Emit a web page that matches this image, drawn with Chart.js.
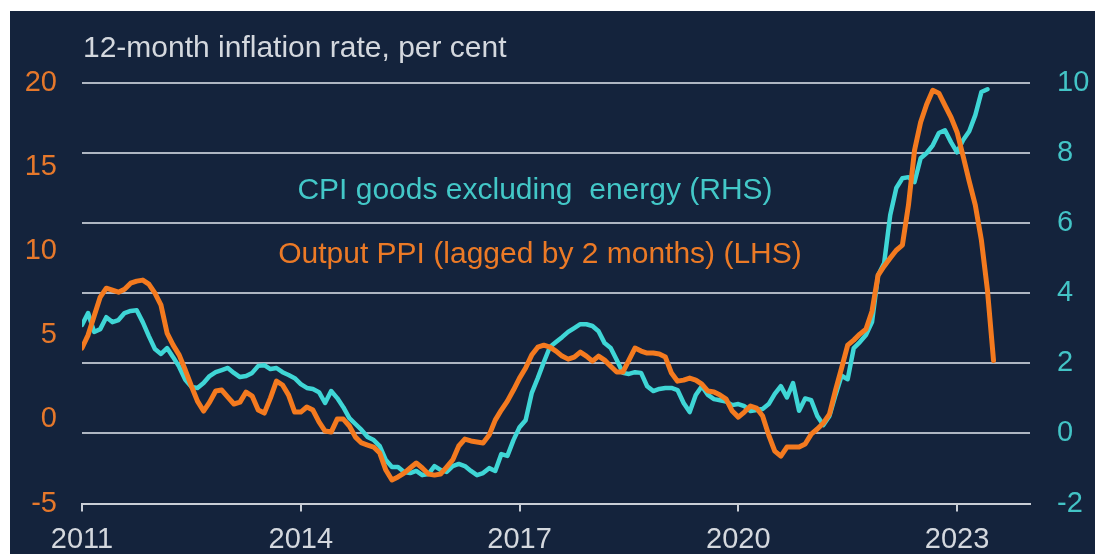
<!DOCTYPE html>
<html>
<head>
<meta charset="utf-8">
<script src="https://cdn.jsdelivr.net/npm/chart.js@4.4.0/dist/chart.umd.min.js"></script>
<style>
  html, body { margin: 0; padding: 0; background: #ffffff; }
  #panel {
    position: absolute; left: 10px; top: 11px; width: 1085px; height: 543px;
    background: #14233c; overflow: hidden;
    font-family: "Liberation Sans", Arial, sans-serif;
  }
  #chart { position: absolute; left: 0; top: 0; }
  .note { position: absolute; font-size: 30px; line-height: 30px; white-space: pre; }
  #title { left: 73px; top: 21px; color: #d4d8de; }
  #cpiNote { left: 525px; top: 163px; transform: translateX(-50%); color: #43c8c8; }
  #ppiNote { left: 530px; top: 227px; transform: translateX(-50%); color: #ec7a26; }
</style>
</head>
<body>
<div id="panel">
  <canvas id="chart" width="1085" height="543"></canvas>
  <div class="note" id="title">12-month inflation rate, per cent</div>
  <div class="note" id="cpiNote">CPI goods excluding  energy (RHS)</div>
  <div class="note" id="ppiNote">Output PPI (lagged by 2 months) (LHS)</div>
</div>
<script>
// monthly, starting January 2011
const startYear = 2011;
const yearTicks = [2011, 2014, 2017, 2020, 2023];

// CPI goods excluding energy, 12-month rate (right axis)
const cpiGoods = [
  3.10, 3.44, 2.90, 2.98, 3.32, 3.18, 3.24, 3.44, 3.50, 3.52,
  3.18, 2.78, 2.41, 2.27, 2.44, 2.18, 1.90, 1.53, 1.33, 1.30,
  1.44, 1.64, 1.75, 1.81, 1.87, 1.73, 1.61, 1.64, 1.73, 1.93,
  1.95, 1.84, 1.87, 1.75, 1.67, 1.58, 1.41, 1.30, 1.27, 1.18,
  0.87, 1.21, 1.01, 0.75, 0.44, 0.27, 0.10, -0.10, -0.19, -0.36,
  -0.76, -0.96, -0.96, -1.10, -1.13, -1.07, -1.19, -1.16, -0.93, -1.04,
  -1.10, -0.93, -0.87, -0.93, -1.07, -1.19, -1.13, -0.99, -1.07, -0.59,
  -0.64, -0.19, 0.18, 0.38, 1.15, 1.58, 2.04, 2.47, 2.61, 2.75,
  2.90, 3.01, 3.12, 3.12, 3.07, 2.92, 2.58, 2.44, 2.10, 1.73,
  1.70, 1.75, 1.73, 1.35, 1.21, 1.27, 1.30, 1.30, 1.24, 0.87,
  0.61, 1.10, 1.35, 1.10, 0.98, 0.95, 0.91, 0.81, 0.84, 0.78,
  0.64, 0.67, 0.70, 0.84, 1.13, 1.35, 1.03, 1.44, 0.65, 1.00,
  0.95, 0.50, 0.24, 0.50, 1.10, 1.65, 1.55, 2.44, 2.61, 2.81,
  3.18, 4.52, 4.87, 6.24, 7.01, 7.29, 7.32, 7.18, 7.86, 8.01,
  8.23, 8.58, 8.66, 8.32, 8.03, 8.38, 8.63, 9.09, 9.75, 9.83
];

// Output PPI lagged by 2 months, 12-month rate (left axis)
const ppiOutput = [
  4.25, 5.02, 6.15, 7.28, 7.81, 7.69, 7.57, 7.75, 8.11, 8.23,
  8.29, 8.05, 7.51, 6.80, 5.14, 4.42, 3.83, 2.94, 1.99, 1.09,
  0.50, 1.03, 1.69, 1.75, 1.33, 0.92, 1.03, 1.63, 1.39, 0.56,
  0.38, 1.27, 2.28, 2.05, 1.45, 0.44, 0.44, 0.74, 0.56, -0.15,
  -0.69, -0.75, 0.02, 0.02, -0.39, -1.05, -1.40, -1.52, -1.64, -2.00,
  -3.01, -3.60, -3.42, -3.19, -2.89, -2.59, -2.89, -3.25, -3.31, -3.25,
  -2.83, -2.41, -1.58, -1.17, -1.28, -1.34, -1.40, -0.93, -0.04, 0.56,
  1.09, 1.75, 2.46, 3.06, 3.83, 4.30, 4.42, 4.30, 4.07, 3.77,
  3.59, 3.71, 4.01, 3.77, 3.47, 3.77, 3.53, 3.17, 2.82, 2.82,
  3.53, 4.25, 4.07, 3.95, 3.95, 3.89, 3.71, 2.76, 2.28, 2.34,
  2.46, 2.34, 2.10, 1.69, 1.63, 1.45, 1.21, 0.50, 0.14, 0.44,
  0.80, 0.68, 0.20, -0.93, -1.88, -2.18, -1.64, -1.64, -1.64, -1.46,
  -0.87, -0.57, -0.21, 0.32, 1.75, 3.06, 4.42, 4.72, 5.08, 5.37,
  6.44, 8.58, 9.12, 9.60, 10.07, 10.37, 12.75, 16.02, 17.68, 18.75,
  19.58, 19.41, 18.69, 17.98, 17.09, 15.66, 14.17, 12.75, 10.67, 7.69,
  3.50
];

const months = ppiOutput.map((_, i) => startYear + i / 12);

const font = { family: '"Liberation Sans", Arial, sans-serif', size: 29 };
const orange = '#f47a1f';
const cyan = '#3fd6d6';

new Chart(document.getElementById('chart'), {
  type: 'line',
  data: {
    labels: months,
    datasets: [
      {
        label: 'Output PPI (lagged by 2 months) (LHS)',
        data: ppiOutput,
        yAxisID: 'yL',
        borderColor: orange,
        borderWidth: 5,
        pointRadius: 0,
        tension: 0,
        borderJoinStyle: 'round',
        borderCapStyle: 'round',
      },
      {
        label: 'CPI goods excluding energy (RHS)',
        data: cpiGoods,
        yAxisID: 'yR',
        borderColor: cyan,
        borderWidth: 4.5,
        pointRadius: 0,
        tension: 0,
        borderJoinStyle: 'round',
        borderCapStyle: 'round',
      },
    ],
  },
  options: {
    responsive: false,
    animation: false,
    devicePixelRatio: 1,
    layout: { padding: { top: 72.3, left: 0, right: 0, bottom: 0 } },
    plugins: {
      legend: { display: false },
      tooltip: { enabled: false },
    },
    scales: {
      x: {
        type: 'linear',
        min: 2011,
        max: 2024,
        afterBuildTicks: (s) => { s.ticks = yearTicks.map((v) => ({ value: v })); },
        afterFit: (s) => { s.height = 50.5; },
        grid: { drawOnChartArea: false, drawTicks: true, tickLength: 8, color: '#c9ced6', lineWidth: 2 },
        border: { display: true, color: '#c9ced6', width: 2 },
        ticks: {
          color: '#d4d8de', font, padding: 11, maxRotation: 0, autoSkip: false,
          callback: (v) => String(v),
        },
      },
      yL: {
        position: 'left',
        min: -5,
        max: 20,
        afterFit: (s) => { s.width = 72; },
        grid: { display: false, drawTicks: false },
        border: { display: false },
        ticks: { stepSize: 5, color: '#e6782b', font, padding: 25 },
      },
      yR: {
        position: 'right',
        min: -2,
        max: 10,
        afterFit: (s) => { s.width = 65; },
        grid: { color: '#aeb6c2', lineWidth: 2, drawTicks: false },
        border: { display: false },
        ticks: { stepSize: 2, color: '#43c4c6', font, padding: 27 },
      },
    },
  },
});
</script>
</body>
</html>
